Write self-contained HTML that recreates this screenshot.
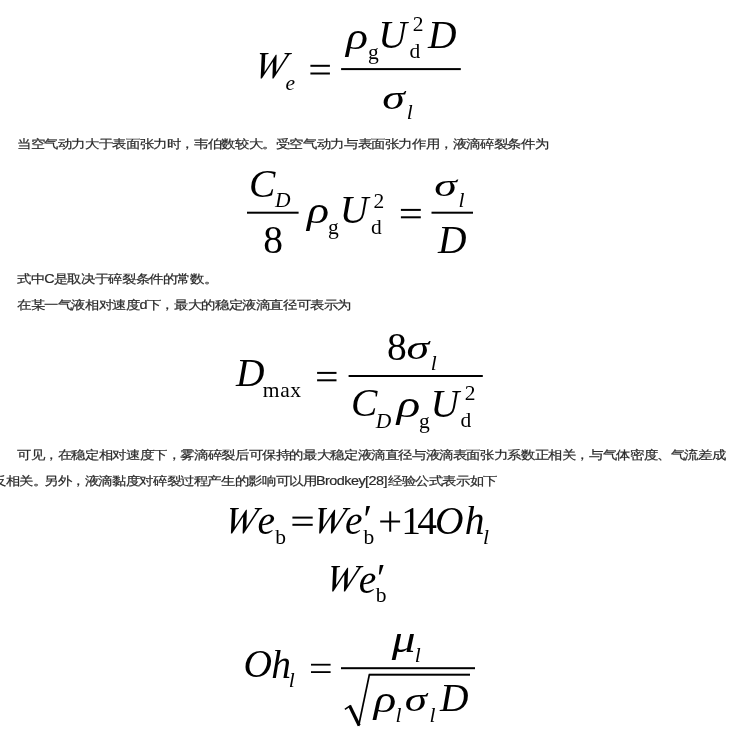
<!DOCTYPE html>
<html><head><meta charset="utf-8"><style>
html,body{margin:0;padding:0;background:#fff;width:739px;height:734px;overflow:hidden}
body{-webkit-font-smoothing:antialiased}
.t{will-change:transform}
.t{position:absolute;white-space:nowrap;font-family:"Liberation Sans",sans-serif;font-size:12px;letter-spacing:-0.65px;line-height:17px;color:#2a2a2a;-webkit-text-stroke:0.2px #2a2a2a;transform-origin:0 0;transform:scaleX(1.2)}
svg{position:absolute;left:0;top:0;will-change:transform}
svg text{font-family:"Liberation Serif",serif;fill:#000}
</style></head><body>
<div class="t" style="left:17.30px;top:135.70px">当空气动力大于表面张力时，韦伯数较大。受空气动力与表面张力作用，液滴碎裂条件为</div>
<div class="t" style="left:17.30px;top:270.60px">式中C是取决于碎裂条件的常数。</div>
<div class="t" style="left:17.30px;top:297.40px">在某一气液相对速度d下，最大的稳定液滴直径可表示为</div>
<div class="t" style="left:17.30px;top:446.90px">可见，在稳定相对速度下，雾滴碎裂后可保持的最大稳定液滴直径与液滴表面张力系数正相关，与气体密度、气流差成</div>
<div class="t" style="left:-8.50px;top:473.20px">反相关。</div>
<div class="t" style="left:43.97px;top:473.20px">另外，液滴黏度对碎裂过程产生的影响可以用</div>
<div class="t" style="left:315.70px;top:473.20px"><span style="letter-spacing:-0.45px">Brodkey[28]</span></div>
<div class="t" style="left:387.64px;top:473.20px">经验公式表示如下</div>
<svg width="739" height="734">
<text x="254.93" y="78.12" font-size="38.20" font-style="italic" font-weight="normal" transform="translate(273.55 65.90) skewX(-11) translate(-273.55 -65.90)">W</text>
<text x="285.49" y="89.61" font-size="21.50" font-style="italic" font-weight="normal">e</text>
<text x="0" y="0" font-size="39.50" font-style="italic" transform="matrix(1.1617 0 0 0.9353 346.07 48.54)">ρ</text>
<text x="368.02" y="59.40" font-size="21.50" font-style="normal" font-weight="normal">g</text>
<text x="378.25" y="48.19" font-size="39.50" font-style="italic" font-weight="normal">U</text>
<text x="412.70" y="30.72" font-size="21.50" font-style="normal" font-weight="normal">2</text>
<text x="409.52" y="58.30" font-size="21.50" font-style="normal" font-weight="normal">d</text>
<text x="427.96" y="48.34" font-size="39.50" font-style="italic" font-weight="normal">D</text>
<text x="0" y="0" font-size="39.50" font-style="italic" transform="matrix(1.1607 0 0 0.8336 382.33 109.28)">σ</text>
<text x="406.73" y="119.16" font-size="21.50" font-style="italic" font-weight="normal">l</text>
<text x="248.99" y="196.99" font-size="39.50" font-style="italic" font-weight="normal">C</text>
<text x="275.07" y="206.92" font-size="21.50" font-style="italic" font-weight="normal">D</text>
<text x="263.17" y="253.24" font-size="39.50" font-style="normal" font-weight="normal">8</text>
<text x="0" y="0" font-size="39.50" font-style="italic" transform="matrix(1.1670 0 0 0.9501 307.07 223.31)">ρ</text>
<text x="328.07" y="234.15" font-size="21.50" font-style="normal" font-weight="normal">g</text>
<text x="339.75" y="223.44" font-size="39.50" font-style="italic" font-weight="normal">U</text>
<text x="373.45" y="207.62" font-size="21.50" font-style="normal" font-weight="normal">2</text>
<text x="371.07" y="233.75" font-size="21.50" font-style="normal" font-weight="normal">d</text>
<text x="0" y="0" font-size="39.50" font-style="italic" transform="matrix(1.1607 0 0 0.8143 434.23 195.89)">σ</text>
<text x="458.53" y="206.91" font-size="21.50" font-style="italic" font-weight="normal">l</text>
<text x="438.06" y="252.99" font-size="39.50" font-style="italic" font-weight="normal">D</text>
<text x="236.06" y="386.29" font-size="39.50" font-style="italic" font-weight="normal">D</text>
<text x="262.75" y="396.77" font-size="21.50" font-style="normal" font-weight="normal">m</text>
<text x="280.24" y="396.64" font-size="21.50" font-style="normal" font-weight="normal">a</text>
<text x="290.31" y="396.63" font-size="21.50" font-style="normal" font-weight="normal">x</text>
<text x="386.88" y="359.69" font-size="39.50" font-style="normal" font-weight="normal">8</text>
<text x="0" y="0" font-size="39.50" font-style="italic" transform="matrix(1.1658 0 0 0.8288 406.43 358.98)">σ</text>
<text x="430.83" y="369.76" font-size="21.50" font-style="italic" font-weight="normal">l</text>
<text x="351.09" y="415.94" font-size="39.50" font-style="italic" font-weight="normal">C</text>
<text x="375.87" y="428.12" font-size="21.50" font-style="italic" font-weight="normal">D</text>
<text x="0" y="0" font-size="39.50" font-style="italic" transform="matrix(1.2416 0 0 0.9353 396.65 417.34)">ρ</text>
<text x="419.07" y="427.65" font-size="21.50" font-style="normal" font-weight="normal">g</text>
<text x="430.40" y="416.79" font-size="39.50" font-style="italic" font-weight="normal">U</text>
<text x="464.85" y="399.62" font-size="21.50" font-style="normal" font-weight="normal">2</text>
<text x="460.52" y="426.95" font-size="21.50" font-style="normal" font-weight="normal">d</text>
<text x="225.23" y="533.02" font-size="38.20" font-style="italic" font-weight="normal" transform="translate(243.85 520.80) skewX(-11) translate(-243.85 -520.80)">W</text>
<text x="257.47" y="533.96" font-size="39.50" font-style="italic" font-weight="normal">e</text>
<text x="275.18" y="544.05" font-size="21.50" font-style="normal" font-weight="normal">b</text>
<text x="313.43" y="533.02" font-size="38.20" font-style="italic" font-weight="normal" transform="translate(332.05 520.80) skewX(-11) translate(-332.05 -520.80)">W</text>
<text x="345.07" y="534.21" font-size="39.50" font-style="italic" font-weight="normal">e</text>
<text x="360.95" y="531.88" font-size="39.50" font-style="italic" font-weight="normal">′</text>
<text x="363.43" y="543.80" font-size="21.50" font-style="normal" font-weight="normal">b</text>
<text x="401.13" y="534.29" font-size="39.50" font-style="normal" font-weight="normal">1</text>
<text x="417.35" y="534.25" font-size="39.50" font-style="normal" font-weight="normal">4</text>
<text x="435.01" y="533.78" font-size="39.50" font-style="italic" font-weight="normal">O</text>
<text x="464.63" y="534.15" font-size="39.50" font-style="italic" font-weight="normal">h</text>
<text x="482.93" y="543.71" font-size="21.50" font-style="italic" font-weight="normal">l</text>
<text x="326.28" y="591.22" font-size="38.20" font-style="italic" font-weight="normal" transform="translate(344.90 579.00) skewX(-11) translate(-344.90 -579.00)">W</text>
<text x="358.67" y="592.81" font-size="39.50" font-style="italic" font-weight="normal">e</text>
<text x="374.50" y="590.78" font-size="39.50" font-style="italic" font-weight="normal">′</text>
<text x="375.73" y="601.95" font-size="21.50" font-style="normal" font-weight="normal">b</text>
<text x="243.46" y="677.23" font-size="39.50" font-style="italic" font-weight="normal">O</text>
<text x="271.23" y="677.85" font-size="39.50" font-style="italic" font-weight="normal">h</text>
<text x="288.63" y="686.86" font-size="21.50" font-style="italic" font-weight="normal">l</text>
<text x="0" y="0" font-size="39.50" font-style="italic" transform="matrix(1.2019 0 0 0.9406 391.75 651.65)">μ</text>
<text x="414.78" y="661.81" font-size="21.50" font-style="italic" font-weight="normal">l</text>
<text x="0" y="0" font-size="39.50" font-style="italic" transform="matrix(1.1883 0 0 0.9612 373.79 712.02)">ρ</text>
<text x="395.38" y="721.71" font-size="21.50" font-style="italic" font-weight="normal">l</text>
<text x="0" y="0" font-size="39.50" font-style="italic" transform="matrix(1.1402 0 0 0.8336 404.76 711.18)">σ</text>
<text x="429.38" y="722.21" font-size="21.50" font-style="italic" font-weight="normal">l</text>
<text x="440.01" y="710.94" font-size="39.50" font-style="italic" font-weight="normal">D</text>
<rect x="310.40" y="64.80" width="19.50" height="2.00"/>
<rect x="310.40" y="72.50" width="19.50" height="2.00"/>
<rect x="341.10" y="68.10" width="119.70" height="2.00"/>
<rect x="247.00" y="211.70" width="51.60" height="2.00"/>
<rect x="400.90" y="208.90" width="19.90" height="2.00"/>
<rect x="400.90" y="216.30" width="19.90" height="2.00"/>
<rect x="431.50" y="211.70" width="41.50" height="2.00"/>
<rect x="317.10" y="371.90" width="19.40" height="2.00"/>
<rect x="317.10" y="379.30" width="19.40" height="2.00"/>
<rect x="348.60" y="375.00" width="134.20" height="2.00"/>
<rect x="292.40" y="516.60" width="20.30" height="2.00"/>
<rect x="292.40" y="523.80" width="20.30" height="2.00"/>
<rect x="380.20" y="520.50" width="19.90" height="2.00"/>
<rect x="389.20" y="511.40" width="2.00" height="20.30"/>
<rect x="311.00" y="663.80" width="19.60" height="1.80"/>
<rect x="311.00" y="671.20" width="19.60" height="1.80"/>
<rect x="341.00" y="667.20" width="134.00" height="2.00"/>
<rect x="368.80" y="673.70" width="101.20" height="2.00"/>
<g stroke="#000" fill="none"><line x1="344.9" y1="709.3" x2="350.8" y2="705.3" stroke-width="1.6"/><line x1="349.6" y1="705.8" x2="359.2" y2="725.5" stroke-width="3.2"/><line x1="358.6" y1="726" x2="369.4" y2="674.5" stroke-width="1.7"/></g>
</svg>
</body></html>
